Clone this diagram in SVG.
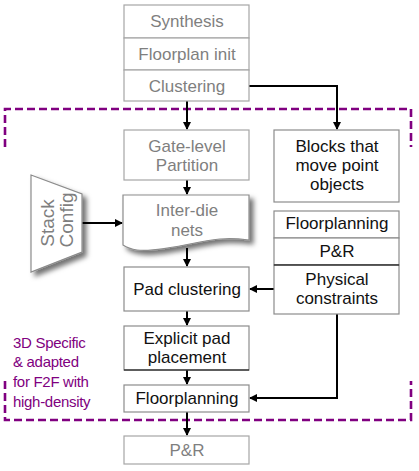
<svg xmlns="http://www.w3.org/2000/svg" width="419" height="471" viewBox="0 0 419 471">
<defs>
<style>
.g{fill:#fff;stroke:#a6a6a6;stroke-width:1.2}
.k{fill:#fff;stroke:#8c8c8c;stroke-width:1.2}
text{font-family:"Liberation Sans",Arial,sans-serif;font-size:17px;text-anchor:middle}
.tg{fill:#7f7f7f}
.tk{fill:#111}
.sc{font-size:19px}
.c{fill:none;stroke:#000;stroke-width:2}
.d{fill:none;stroke:#800080;stroke-width:2.6;stroke-dasharray:8 4}
.p{fill:#800080;font-size:15px;text-anchor:start;letter-spacing:-0.3px}
</style>
<marker id="ah" markerWidth="8" markerHeight="8" refX="7" refY="4" orient="auto" markerUnits="userSpaceOnUse">
<path d="M0,0 L8,4 L0,8 Z" fill="#000"/>
</marker>
<filter id="sh" x="-30%" y="-30%" width="160%" height="160%">
<feDropShadow dx="4" dy="4" stdDeviation="2.5" flood-color="#000" flood-opacity="0.55"/>
</filter>
</defs>

<g id="region">
<path class="d" d="M5,147 V109 H411 V147"/>
<path class="d" d="M5,381 V420 H411 V381"/>
<text class="p" x="13" y="348">3D Specific</text>
<text class="p" x="13" y="367">&amp; adapted</text>
<text class="p" x="13" y="387">for F2F with</text>
<text class="p" x="13" y="407">high-density</text>
</g>

<g id="connectors">
<line class="c" x1="187" y1="101" x2="187" y2="129" marker-end="url(#ah)"/>
<path class="c" d="M249,86 H337 V129" marker-end="url(#ah)"/>
<line class="c" x1="187" y1="180" x2="187" y2="194" marker-end="url(#ah)"/>
<line class="c" x1="82" y1="223" x2="122" y2="223" marker-end="url(#ah)"/>
<line class="c" x1="187" y1="248" x2="187" y2="266" marker-end="url(#ah)"/>
<line class="c" x1="274" y1="289" x2="250" y2="289" marker-end="url(#ah)"/>
<line class="c" x1="187" y1="311" x2="187" y2="325" marker-end="url(#ah)"/>
<line class="c" x1="187" y1="370" x2="187" y2="384" marker-end="url(#ah)"/>
<path class="c" d="M337,314 V398 H250" marker-end="url(#ah)"/>
<line class="c" x1="187" y1="412" x2="187" y2="435" marker-end="url(#ah)"/>
</g>

<g id="synthesis">
<rect class="g" x="124" y="5" width="125" height="33"/>
<text class="tg" x="187" y="27">Synthesis</text>
</g>
<g id="floorplan-init">
<rect class="g" x="124" y="38" width="125" height="32"/>
<text class="tg" x="187" y="60">Floorplan init</text>
</g>
<g id="clustering">
<rect class="g" x="124" y="70" width="125" height="31"/>
<text class="tg" x="187" y="92">Clustering</text>
</g>

<g id="gate-level-partition">
<rect class="g" x="124" y="130" width="125" height="50"/>
<text class="tg" x="187" y="152">Gate-level</text>
<text class="tg" x="187" y="171">Partition</text>
</g>

<g id="blocks">
<rect class="k" x="274" y="130" width="125" height="72"/>
<text class="tk" x="337" y="152">Blocks that</text>
<text class="tk" x="337" y="171">move point</text>
<text class="tk" x="337" y="190">objects</text>
</g>

<g id="stack-config">
<path d="M31,175 L82,194 V252 L31,272 Z" fill="#fff" stroke="#8c8c8c" stroke-width="1.2" filter="url(#sh)"/>
<text class="tg sc" transform="translate(54,223) rotate(-90)">Stack</text>
<text class="tg sc" transform="translate(73,220) rotate(-90)">Config</text>
</g>

<g id="inter-die-nets">
<path d="M123,195 H249 V240 C232,238 220,238 200,242 C175,247 150,252 137,250 C130,249 126,247 123,245 Z" fill="#fff" stroke="#8c8c8c" stroke-width="1.2" filter="url(#sh)"/>
<text class="tg" x="187" y="216">Inter-die</text>
<text class="tg" x="187" y="236">nets</text>
</g>

<g id="floorplanning-r">
<rect class="k" x="274" y="211" width="125" height="27"/>
<text class="tk" x="337" y="229">Floorplanning</text>
</g>
<g id="pnr-r">
<rect class="k" x="274" y="238" width="125" height="27"/>
<text class="tk" x="337" y="257">P&amp;R</text>
</g>
<g id="physical-constraints">
<rect class="k" x="274" y="265" width="125" height="49"/>
<line x1="274" y1="265" x2="399" y2="265" stroke="#000" stroke-width="1.2"/>
<text class="tk" x="337" y="285">Physical</text>
<text class="tk" x="337" y="304">constraints</text>
</g>

<g id="pad-clustering">
<rect class="k" x="124" y="267" width="125" height="44"/>
<text class="tk" x="187" y="295">Pad clustering</text>
</g>

<g id="explicit-pad-placement">
<rect class="k" x="124" y="326" width="125" height="44"/>
<line x1="124" y1="370" x2="249" y2="370" stroke="#000" stroke-width="1.2"/>
<text class="tk" x="187" y="344">Explicit pad</text>
<text class="tk" x="187" y="363">placement</text>
</g>

<g id="floorplanning-b">
<rect class="k" x="124" y="385" width="125" height="27"/>
<text class="tk" x="187" y="404">Floorplanning</text>
</g>

<g id="pnr-b">
<rect class="g" x="124" y="436" width="125" height="28"/>
<text class="tg" x="187" y="456">P&amp;R</text>
</g>
</svg>
